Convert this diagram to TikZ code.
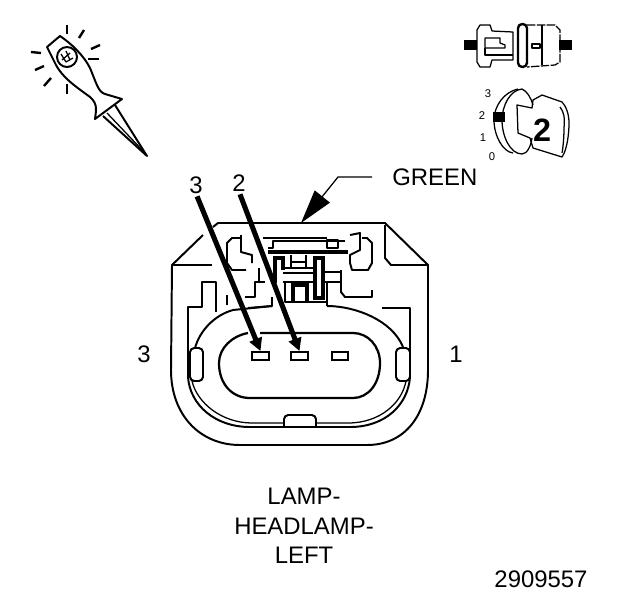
\documentclass[tikz,border=0pt]{standalone}
\usepackage{fontspec}
\setmainfont{Liberation Sans}
\usetikzlibrary{arrows.meta}
\tikzset{
    outline/.style={color=black,line width=1.4pt,line join=round},
    fine/.style={color=black,line width=0.9pt,line join=round},
    heavy/.style={color=black,line width=2.2pt},
    ray/.style={color=black,line width=1.7pt},
    pinbox/.style={draw,line width=1.3pt,minimum width=0.42cm,minimum height=0.2cm,inner sep=0pt},
    pinarrow/.style={-{Triangle[length=0.32cm,width=0.32cm]},color=black,line width=3.6pt,shorten <=2pt},
    callout/.style={font=\fontsize{17}{20}\selectfont,inner sep=0pt},
    tiny/.style={font=\fontsize{8}{9}\selectfont,inner sep=0pt},
    block/.style={fill=black,inner sep=0pt}
}
\begin{document}
\begin{tikzpicture}[x=0.025cm,y=-0.025cm]
    \useasboundingbox (0,0) rectangle (624,600);
    % probe
    \draw [outline] (47,47) -- (60,36) .. controls (72,44) and (84,56) .. (90,68) .. controls (96,82) and (98,92) .. (105,94) -- (122,99) -- (95,119) .. controls (96,110) and (98,104) .. (90,97) .. controls (78,88) and (62,78) .. (55,63) -- cycle;
    \draw [outline] (115,105) -- (147,156) -- (103,116);
    \draw [fine] (107,113) -- (145,153);
    \draw [outline] (67,57) circle (10);
    \draw [fine] (61,54) -- (66,62) -- (73,58) (66,51) -- (70,60) (62,60) -- (70,53);
    \foreach \xa/\ya/\xb/\yb in {67/25/67/34,84/30/79/38,100/45/91/49,99/59/88/59,31/52/41/53,35/70/44/66,44/86/51/78,67/84/67/94}
        \draw [ray] (\xa,\ya) -- (\xb,\yb);

    % small connector top right
    \node [block,minimum width=0.33cm,minimum height=0.25cm] (endl) at (470.5,45) {};
    \node [block,minimum width=0.33cm,minimum height=0.25cm] (endr) at (565.5,45) {};
    \draw [fine] (477,30) -- (480,25) -- (490,25) -- (492,31) -- (513,32) -- (513,60) -- (492,60) -- (490,67) -- (480,67) -- (477,62) -- cycle;
    \draw [fine] (485,38) -- (500,38) -- (500,43) -- (505,45) -- (505,48) -- (500,48) -- (485,48) -- cycle;
    \draw [fine] (485,48) -- (485,55) -- (513,55);
    \draw [outline,line width=1.7pt,rounded corners=3] (518,24) rectangle (527,67);
    \draw [fine,dash pattern=on 6pt off 1pt] (527,25) -- (555,25) -- (560,30) -- (560,62) -- (555,65) -- (527,67);
    \draw [fine] (542,25) -- (542,65);
    \draw [fine] (532,44) rectangle (540,48);

    % key
    \draw [fine] (518,89) .. controls (504,92) and (494,106) .. (494,120) .. controls (494,136) and (503,152) .. (513,153);
    \draw [fine] (522,89) .. controls (510,90) and (502,106) .. (502,120) .. controls (502,136) and (510,154) .. (522,154) .. controls (527,154) and (531,146) .. (532,138);
    \draw [fine] (522,89) .. controls (527,91) and (531,98) .. (533,105);
    \draw [fine] (517,105) -- (532,108) -- (533,100) -- (542,95) -- (562,102) .. controls (566,106) and (569,114) .. (569,123) .. controls (569,134) and (567,150) .. (562,157) -- (533,148) -- (530,138) -- (518,133) -- cycle;
    \draw [fine] (560,107) .. controls (564,112) and (565,118) .. (564,128) .. controls (564,138) and (563,148) .. (562,153);
    \node [block,minimum width=0.3cm,minimum height=0.25cm] (mark) at (499,117) {};
    \node [callout,font=\fontsize{23}{24}\selectfont\bfseries] (keynum) at (542,130) {2};
    \node [tiny] (pos3) at (488,94) {3};
    \node [tiny] (pos2) at (482,116) {2};
    \node [tiny] (pos1) at (483,138) {1};
    \node [tiny] (pos0) at (492,157) {0};

    % body
    \draw [outline] (203,235) -- (172,265) -- (171,370) .. controls (171,415) and (200,445) .. (240,445) -- (367,445) .. controls (405,445) and (428,415) .. (428,370) -- (428,265) -- (385,223) -- (218,223) -- (213,227);
    \draw [outline] (172,265) -- (212,265);
    \draw [outline] (385,225) -- (385,258) -- (391,265) -- (428,265);
    \draw [outline] (188,377) -- (188,307) -- (202,307) -- (202,282) -- (216,282) -- (216,312);
    \draw [outline] (382,308) -- (410,308) -- (410,377);
    \draw [outline] (188,377) .. controls (190,405) and (215,427) .. (250,427) -- (350,427) .. controls (385,427) and (408,405) .. (410,377);
    \draw [fine] (192,381) .. controls (197,403) and (222,423) .. (252,423) -- (284,423);
    \draw [fine] (316,423) -- (348,423) .. controls (380,423) and (402,403) .. (406,381);
    \draw [outline,rounded corners=3] (284,427) -- (284,415) -- (316,415) -- (316,427);
    \draw [outline,rounded corners=3] (190,348) rectangle (203,381);
    \draw [outline,rounded corners=3] (396,348) rectangle (410,381);

    % oval
    \draw [outline] (195,348) .. controls (200,330) and (215,315) .. (233,310);
    \draw [outline] (272,306) -- (233,310);
    \draw [outline] (327,306) .. controls (355,306) and (392,320) .. (403,347);
    \draw [outline,line width=1.6pt] (248,333) .. controls (232,336) and (219,348) .. (219,363) .. controls (219,384) and (232,398) .. (250,398) -- (353,398) .. controls (368,398) and (380,384) .. (380,363) .. controls (380,346) and (368,333) .. (353,333) -- (260,333);

    % latch
    \draw [outline] (240,238) -- (232,238) -- (227,243) -- (227,263) -- (232,270) -- (246,270);
    \draw [outline] (241,235) -- (241,252) -- (252,255) -- (252,263);
    \draw [outline] (263,238) -- (327,238);
    \draw [outline] (268,248) -- (273,248) -- (273,241) -- (345,241);
    \draw [heavy] (268,252) -- (348,252);
    \draw [outline] (327,240) rectangle (338,248);
    \draw [outline] (350,235) -- (360,233) -- (360,250) -- (350,255) -- (350,263) -- (352,270) -- (368,270) -- (372,263) -- (372,243) -- (367,238) -- (362,238);
    \draw [outline] (259,268) -- (259,282) -- (255,282) -- (255,297) -- (245,297);
    \draw [outline] (259,282) -- (265,282);
    \draw [outline] (227,295) -- (227,305);
    \draw [outline] (248,308) -- (272,306) -- (272,297);
    \draw [heavy] (275,283) -- (275,258) -- (283,258) -- (283,270);
    \draw [outline] (291,255) -- (291,268) (306,255) -- (306,268) (291,262) -- (306,262);
    \draw [outline] (283,268) -- (315,268) (283,273) -- (315,273) (283,282) -- (315,282);
    \draw [heavy] (315,258) rectangle (323,298);
    \draw [outline] (323,272) -- (340,272) (323,282) -- (340,282);
    \draw [heavy] (293,302) -- (293,285) -- (307,285) -- (307,302);
    \draw [outline] (285,282) -- (285,302) -- (327,302);
    \draw [outline] (327,282) -- (327,306);
    \draw [outline] (341,270) -- (341,292) -- (345,297) -- (372,297) -- (372,290);

    % terminals and labels
    \node [pinbox] (termc) at (260.5,356) {};
    \node [pinbox] (termb) at (299.5,356) {};
    \node [pinbox] (terma) at (340,356) {};
    \node [callout] (labc) at (196,185) {3};
    \node [callout] (labb) at (239,183) {2};
    \draw [pinarrow] (labc.south) -- (termc.north);
    \draw [pinarrow] (labb.south) -- (termb.north);

    \node [callout,anchor=west] (green) at (392,177) {GREEN};
    \coordinate (bend) at (338,177);
    \coordinate (shell) at (301,223);
    \draw [-{Triangle[length=0.85cm,width=0.48cm]},fine,shorten <=0.5cm] (green.west) -- (bend) -- (shell);

    \node [callout] (sidel) at (144,354) {3};
    \node [callout] (sider) at (456,354) {1};
    \node [callout] (capa) at (304,496) {LAMP-};
    \node [callout] (capb) at (304,526) {HEADLAMP-};
    \node [callout] (capc) at (304,555) {LEFT};
    \node [callout] (partno) at (541,579) {2909557};
\end{tikzpicture}
\end{document}
